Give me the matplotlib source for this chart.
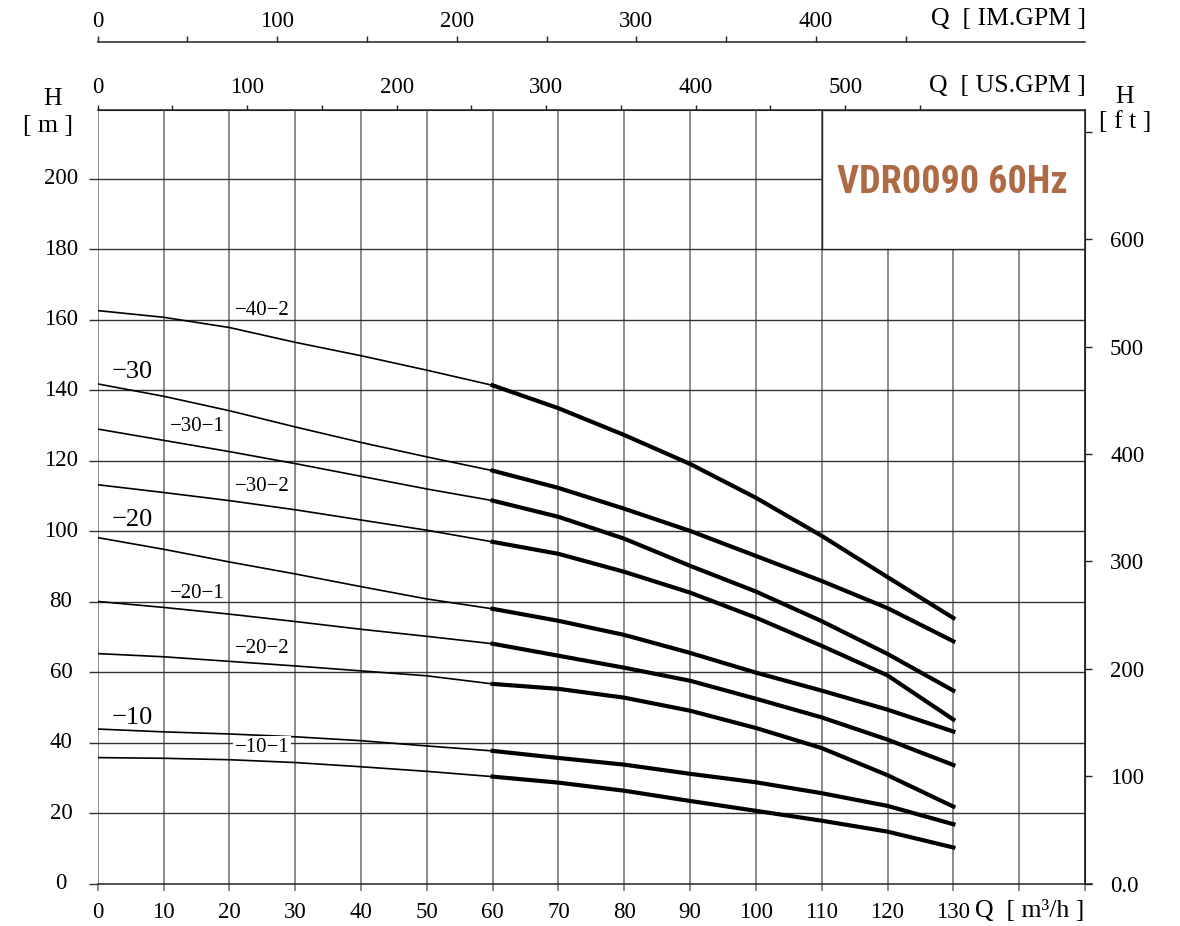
import matplotlib
matplotlib.use("Agg")
import matplotlib.pyplot as plt
import numpy as np
from matplotlib.patches import Rectangle

# flow rate in m3/h and head in m for each impeller variant
FLOW = [0, 10, 20, 30, 40, 50, 60, 70, 80, 90, 100, 110, 120, 130]
NAMES = ["−40−2", "−30", "−30−1", "−30−2", "−20", "−20−1", "−20−2", "−10", "−10−1"]
HEAD_40_2 = [162.6, 160.7, 157.8, 153.6, 149.8, 145.7, 141.4, 134.9, 127.3, 119.1, 109.5, 98.7, 87.0, 75.4]
HEAD_30 = [141.8, 138.3, 134.2, 129.6, 125.2, 121.1, 117.2, 112.3, 106.4, 100.1, 93.0, 85.9, 78.2, 68.8]
HEAD_30_1 = [129.0, 125.8, 122.6, 119.2, 115.6, 112.0, 108.7, 104.1, 97.9, 90.2, 82.9, 74.5, 65.2, 54.8]
HEAD_30_2 = [113.2, 111.0, 108.7, 106.1, 103.2, 100.3, 97.0, 93.6, 88.5, 82.6, 75.5, 67.5, 59.1, 46.6]
HEAD_20 = [98.2, 94.9, 91.3, 87.9, 84.3, 80.8, 78.0, 74.6, 70.6, 65.5, 59.9, 54.8, 49.4, 43.2]
HEAD_20_1 = [80.1, 78.4, 76.5, 74.4, 72.2, 70.2, 68.1, 64.7, 61.3, 57.6, 52.5, 47.2, 40.9, 33.7]
HEAD_20_2 = [65.3, 64.4, 63.1, 61.8, 60.4, 59.0, 56.7, 55.3, 52.8, 49.1, 44.2, 38.5, 30.8, 21.9]
HEAD_10 = [43.9, 43.1, 42.5, 41.7, 40.6, 39.1, 37.7, 35.7, 33.8, 31.2, 28.8, 25.7, 22.1, 16.9]
HEAD_10_1 = [35.8, 35.6, 35.2, 34.4, 33.2, 31.9, 30.4, 28.7, 26.4, 23.5, 20.7, 17.9, 14.8, 10.3]
HEADS = [HEAD_40_2, HEAD_30, HEAD_30_1, HEAD_30_2, HEAD_20, HEAD_20_1, HEAD_20_2, HEAD_10, HEAD_10_1]

X_TICKS = list(range(0, 151, 10))
X_LABELS = [str(v) if v <= 130 else "" for v in X_TICKS]
Y_TICKS = list(range(0, 201, 20))
FT_TICKS = list(range(0, 701, 100))
FT_LABELS = ["0.0", "100", "200", "300", "400", "500", "600", ""]
US_TICKS = list(range(0, 551, 50))
IM_TICKS = list(range(0, 451, 50))
TITLE = "VDR0090 60Hz"

US_PER_M3H = 4.402868
IM_PER_M3H = 3.666154
FT_PER_M = 3.28084

# where each curve name sits (flow, head)
LABEL_AT = [(25, 162.5), (5.2, 145.2), (15.1, 129.8), (25, 112.6), (5.2, 103.1),
            (15.1, 82.4), (25, 66.8), (5.2, 46.9), (25, 38.7)]

W, H = 1180, 926
SERIF = "Liberation Serif"
TICK_FS = 16.5
CAP_FS = 18.5
DARK = "#222222"

plt.rcParams["font.family"] = SERIF


def px(x, y):
    return x / W, 1 - y / H


fig = plt.figure(figsize=(W / 100, H / 100), dpi=100)
ax = fig.add_axes([97.7 / W, (H - 883.8) / H, 987.3 / W, 773.8 / H])
ax.set_xlim(0, 150)
ax.set_ylim(0, 219.5)

# grid: light vertical, dark horizontal
for v in X_TICKS:
    ax.axvline(v, color="#777777", lw=1.2, zorder=0.5)
for v in Y_TICKS[1:]:
    ax.axhline(v, color="#333333", lw=1.0, zorder=0.5)

ax.spines["left"].set_visible(False)
for side in ("top", "right", "bottom"):
    ax.spines[side].set_color(DARK)
    ax.spines[side].set_linewidth(1.1)
# bottom line runs a little past the right edge
ax.plot([1.0, 1.007], [0, 0], color=DARK, lw=1.1, transform=ax.transAxes, clip_on=False)

ax.set_xticks(X_TICKS)
ax.set_xticklabels(X_LABELS, fontsize=TICK_FS)
ax.tick_params(axis="x", direction="out", length=5, width=1.2, color="#777777", pad=8)
ax.set_yticks(Y_TICKS)
ax.set_yticklabels([str(v) for v in Y_TICKS], fontsize=TICK_FS)
ax.tick_params(axis="y", direction="out", length=6.5, width=1.0, color="#333333", pad=20)
plt.setp(ax.get_yticklabels(), ha="center", va="center")

# feet scale on the right
ax_ft = ax.secondary_yaxis("right", functions=(lambda m: m * FT_PER_M, lambda f: f / FT_PER_M))
ax_ft.set_yticks(FT_TICKS)
ax_ft.set_yticklabels(FT_LABELS, fontsize=TICK_FS)
ax_ft.tick_params(direction="out", length=5, width=1.0, color=DARK, pad=13)
ax_ft.spines["right"].set_color(DARK)

# US gallons on the top edge
ax_us = ax.secondary_xaxis("top", functions=(lambda q: q * US_PER_M3H, lambda g: g / US_PER_M3H))
ax_us.set_xticks(US_TICKS)
ax_us.set_xticklabels([str(v) if v % 100 == 0 else "" for v in US_TICKS], fontsize=TICK_FS)
ax_us.tick_params(direction="out", length=3.5, width=1.0, color=DARK, pad=5)
ax_us.spines["top"].set_color(DARK)

# imperial gallons above that
im_loc = (883.8 - 42.2) / 773.8
ax_im = ax.secondary_xaxis(im_loc, functions=(lambda q: q * IM_PER_M3H, lambda g: g / IM_PER_M3H))
ax_im.set_xticks(IM_TICKS)
ax_im.set_xticklabels([str(v) if v % 100 == 0 else "" for v in IM_TICKS], fontsize=TICK_FS)
ax_im.tick_params(direction="out", length=4.5, width=1.0, color=DARK, pad=3)
ax_im.spines["top"].set_color(DARK)
ax_im.spines["top"].set_linewidth(1.1)

# title panel
ax.add_patch(Rectangle((110, 180), 40, 39.5, facecolor="white", edgecolor=DARK, lw=1.0, zorder=1))
ax.text(129.9, 198.8, TITLE, ha="center", va="center", fontsize=27.5, fontweight="bold",
        family=["Roboto Condensed", "Roboto", "DejaVu Sans"],
        color="#AD6A45", zorder=4)

# curves: thin below 60 m3/h, heavy in the working range
q = np.array(FLOW)
for heads in HEADS:
    h = np.array(heads)
    lo = q <= 60
    hi = q >= 60
    ax.plot(q[lo], h[lo], color="black", lw=1.2, zorder=2, solid_capstyle="butt")
    ax.plot(q[hi], h[hi], color="black", lw=3.0, zorder=2, solid_joinstyle="round")

for name, (lq, lh) in zip(NAMES, LABEL_AT):
    fs = 19 if name.count("−") == 1 else 15
    bbox = dict(facecolor="white", edgecolor="none", pad=1) if name == "−10−1" else None
    ax.text(lq, lh, name, ha="center", va="center", fontsize=fs, zorder=3, bbox=bbox)

# axis captions
fig.text(*px(53, 99), "H", ha="center", va="center", fontsize=CAP_FS)
fig.text(*px(48, 126), "[ m ]", ha="center", va="center", fontsize=CAP_FS)
fig.text(*px(1125, 97), "H", ha="center", va="center", fontsize=CAP_FS)
fig.text(*px(1125, 122), "[ f t ]", ha="center", va="center", fontsize=CAP_FS)
fig.text(*px(1086, 86), "Q  [ US.GPM ]", ha="right", va="center", fontsize=CAP_FS)
fig.text(*px(1086, 19), "Q  [ IM.GPM ]", ha="right", va="center", fontsize=CAP_FS)
fig.text(*px(975, 911), "Q  [ m³/h ]", ha="left", va="center", fontsize=CAP_FS)

fig.savefig("out.png", dpi=100, facecolor="white")
